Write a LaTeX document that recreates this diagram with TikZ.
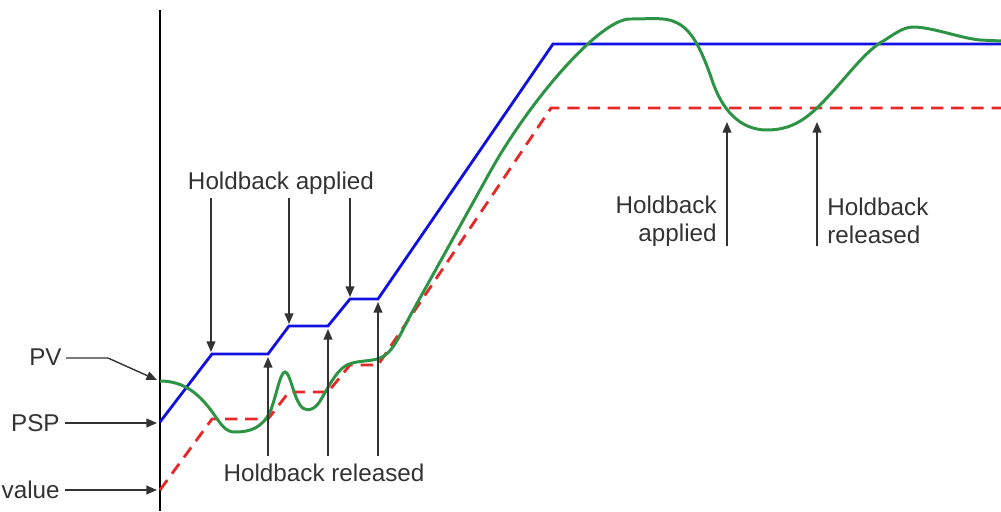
\documentclass[tikz,border=0pt]{standalone}
\usepackage{fontspec}
\setmainfont{Liberation Sans}
\usetikzlibrary{arrows.meta}
\definecolor{txt}{HTML}{333333}
\definecolor{pspblue}{HTML}{1010E0}
\definecolor{pvgreen}{HTML}{2E9445}
\definecolor{spred}{HTML}{E62828}
\begin{document}
\begin{tikzpicture}[x=0.02cm,y=-0.02cm,
  lbl/.style={text=txt,font=\fontsize{13.8}{16}\selectfont,inner sep=0pt},
  arr/.style={draw=txt,line width=0.8pt,-{Triangle[length=6pt,width=5pt]}},
  psp/.style={draw=pspblue,line width=1.6pt,line join=miter},
  pv/.style={draw=pvgreen,line width=1.7pt},
  sp/.style={draw=spred,line width=1.6pt,dash pattern=on 7pt off 4.5pt}]
\useasboundingbox (0,0) rectangle (1001,511);
% axis
\draw[line width=1.6pt,black] (160,10) -- (160,511);
% setpoint (red dashed)
\draw[sp] (160,490) -- (212,419) -- (268,419) -- (289,392) -- (328,392) -- (350,365) -- (378,365) -- (551,108) -- (1001,108);
% PSP (blue)
\draw[psp] (160,422) -- (212,354) -- (268,354) -- (289,326) -- (328,326) -- (350,299) -- (378,299) -- (553,44) -- (1001,44);
% PV (green)
\draw[pv] (160,381) .. controls (185,381) and (200,395) .. (213,413)
  .. controls (222,426) and (226,432) .. (235,432)
  .. controls (250,432) and (262,428) .. (270,412)
  .. controls (276,398) and (280,372) .. (285,372)
  .. controls (290,372) and (293,395) .. (300,405)
  .. controls (304,411) and (311,412) .. (318,404)
  .. controls (326,393) and (334,372) .. (347,365)
  .. controls (357,360) and (370,362) .. (380,358)
  .. controls (392,354) and (400,335) .. (410,316)
  -- (490,172)
  .. controls (530,100) and (600,19) .. (630,19)
  .. controls (650,19) and (665,17) .. (675,22)
  .. controls (690,28) and (700,45) .. (712,80)
  .. controls (722,110) and (740,130) .. (767,130)
  .. controls (790,130) and (805,120) .. (820,105)
  .. controls (845,80) and (865,50) .. (885,40)
  .. controls (900,30) and (905,27) .. (915,27)
  .. controls (935,28) and (960,38) .. (980,40)
  -- (1001,41);
% left labels
\node[lbl,anchor=east] (pv) at (62,357) {PV};
\node[lbl,anchor=east] (psplbl) at (60,423) {PSP};
\node[lbl,anchor=east] (val) at (60,490) {value};
\coordinate (pvtip) at (157,380);
\coordinate (psptip) at (157,423);
\coordinate (valtip) at (157,490);
\draw[arr] (pv.east) ++(4,1) -- ++(42,0) -- (pvtip);
\draw[arr] (psplbl.east) ++(5,0) -- (psptip);
\draw[arr] (val.east) ++(5,0) -- (valtip);
% holdback applied (left)
\node[lbl] (ha) at (281,183) {Holdback applied};
\coordinate (a1s) at (211,198); \coordinate (a1) at (211,352);
\coordinate (a2s) at (289,198); \coordinate (a2) at (289,324);
\coordinate (a3s) at (350,198); \coordinate (a3) at (350,297);
\draw[arr] (a1s) -- (a1);
\draw[arr] (a2s) -- (a2);
\draw[arr] (a3s) -- (a3);
% holdback released (left)
\node[lbl] (hr) at (324,473) {Holdback released};
\coordinate (r1s) at (268,456); \coordinate (r1) at (268,357);
\coordinate (r2s) at (328,456); \coordinate (r2) at (328,329);
\coordinate (r3s) at (378,456); \coordinate (r3) at (378,302);
\draw[arr] (r1s) -- (r1);
\draw[arr] (r2s) -- (r2);
\draw[arr] (r3s) -- (r3);
% right labels
\node[lbl,align=right,anchor=east] (ha2) at (717,221) {Holdback\\applied};
\node[lbl,align=left,anchor=west] (hr2) at (827,221) {Holdback\\released};
\coordinate (a4s) at (727,246); \coordinate (a4) at (727,122);
\coordinate (r4s) at (817,246); \coordinate (r4) at (817,122);
\draw[arr] (a4s) -- (a4);
\draw[arr] (r4s) -- (r4);
\end{tikzpicture}
\end{document}
